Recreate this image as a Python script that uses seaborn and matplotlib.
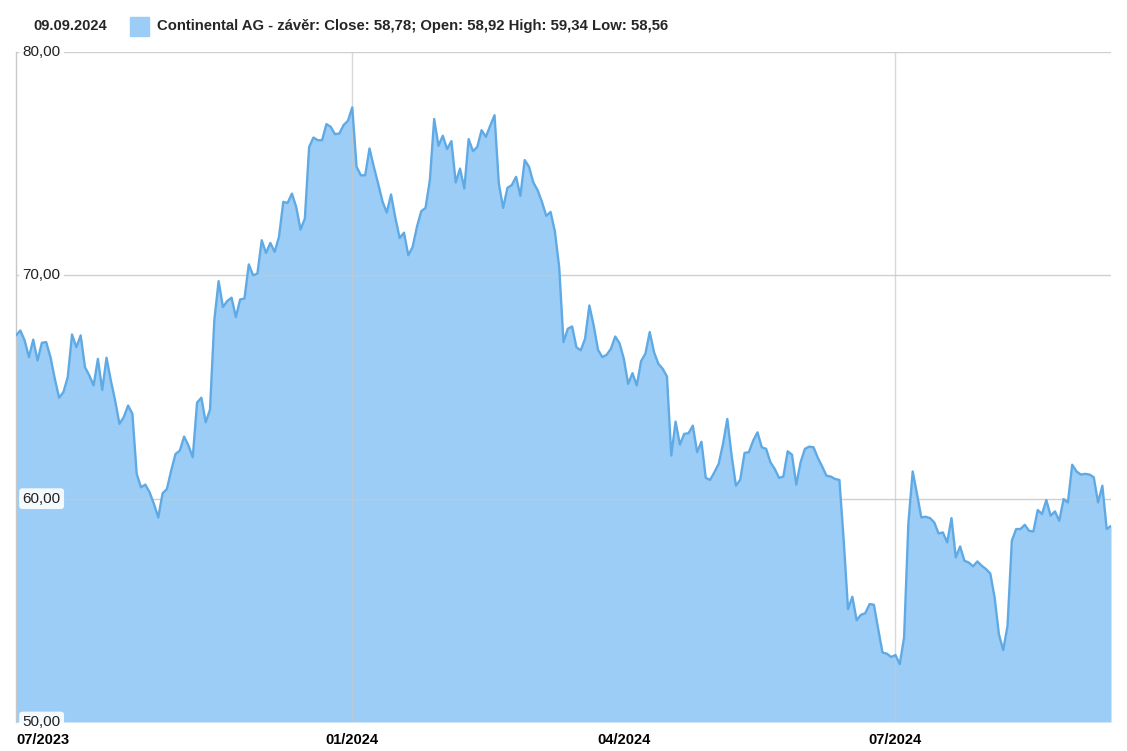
import numpy as np
import pandas as pd
import matplotlib
matplotlib.use('Agg')
import matplotlib.pyplot as plt
import matplotlib.transforms as mtransforms
from matplotlib.patches import Rectangle
import seaborn as sns

# Continental AG closing prices, one value per trading day (11.09.2023 - 09.09.2024)
close = [
    67.31, 67.53, 67.09, 66.34, 67.12, 66.19, 66.98, 67.01, 66.34, 65.37,
    64.52, 64.77, 65.44, 67.35, 66.78, 67.31, 65.89, 65.52, 65.07, 66.26,
    64.87, 66.31, 65.29, 64.39, 63.35, 63.65, 64.17, 63.80, 61.11, 60.51,
    60.63, 60.28, 59.76, 59.16, 60.24, 60.43, 61.26, 62.00, 62.15, 62.78,
    62.38, 61.85, 64.30, 64.52, 63.42, 63.98, 67.98, 69.74, 68.58, 68.85,
    69.00, 68.13, 68.92, 68.96, 70.49, 70.00, 70.08, 71.57, 71.00, 71.45,
    71.05, 71.72, 73.29, 73.24, 73.66, 73.06, 72.05, 72.54, 75.75, 76.17,
    76.05, 76.05, 76.77, 76.65, 76.32, 76.35, 76.73, 76.92, 77.52, 74.86,
    74.48, 74.48, 75.68, 74.86, 74.11, 73.32, 72.81, 73.62, 72.57, 71.67,
    71.91, 70.90, 71.27, 72.17, 72.87, 73.02, 74.26, 77.00, 75.80, 76.25,
    75.65, 76.01, 74.16, 74.78, 73.89, 76.10, 75.56, 75.75, 76.50, 76.20,
    76.70, 77.17, 74.11, 73.02, 73.92, 74.04, 74.41, 73.56, 75.16, 74.86,
    74.16, 73.81, 73.29, 72.66, 72.84, 71.97, 70.37, 67.01, 67.61, 67.71,
    66.78, 66.64, 67.16, 68.65, 67.76, 66.67, 66.34, 66.44, 66.71, 67.26,
    66.96, 66.26, 65.14, 65.62, 65.07, 66.16, 66.49, 67.46, 66.56, 66.04,
    65.82, 65.47, 61.93, 63.45, 62.42, 62.90, 62.93, 63.27, 62.08, 62.55,
    60.93, 60.84, 61.18, 61.56, 62.45, 63.57, 61.93, 60.58, 60.85, 62.05,
    62.08, 62.60, 62.97, 62.30, 62.23, 61.63, 61.33, 60.93, 60.99, 62.12,
    61.97, 60.63, 61.63, 62.23, 62.33, 62.30, 61.83, 61.44, 61.03, 60.99,
    60.88, 60.84, 58.12, 55.05, 55.61, 54.56, 54.80, 54.87, 55.28, 55.25,
    54.16, 53.11, 53.06, 52.91, 53.00, 52.59, 53.78, 58.90, 61.22, 60.21,
    59.16, 59.19, 59.13, 58.94, 58.44, 58.49, 58.04, 59.13, 57.37, 57.86,
    57.22, 57.14, 56.97, 57.19, 57.00, 56.85, 56.65, 55.58, 53.93, 53.22,
    54.31, 58.12, 58.64, 58.64, 58.83, 58.56, 58.53, 59.49, 59.31, 59.94,
    59.24, 59.43, 59.01, 59.98, 59.83, 61.52, 61.22, 61.08, 61.11, 61.08,
    60.96, 59.83, 60.58, 58.64, 58.78,
]
holidays = ['2023-12-25', '2023-12-26', '2024-01-01', '2024-03-29', '2024-04-01', '2024-05-01']
dates = pd.bdate_range('2023-09-11', '2024-09-09', freq='C', holidays=holidays)

tick_months = ['2024-01-01', '2024-04-01', '2024-07-01']
tick_labels = ['07/2023', '01/2024', '04/2024', '07/2024']
grid_months = ['2024-01-01', '2024-07-01']
y_ticks = [50, 60, 70, 80]
y_labels = ['50,00', '60,00', '70,00', '80,00']

header_date = '09.09.2024'
legend_text = 'Continental AG - závěr: Close: 58,78; Open: 58,92 High: 59,34 Low: 58,56'

df = pd.DataFrame({'date': dates[:len(close)], 'close': close})
df['idx'] = np.arange(len(df))

def first_idx(month):
    return int(df.loc[df['date'] >= pd.Timestamp(month), 'idx'].iloc[0])

sns.set_theme(style='white')
plt.rcParams['font.family'] = ['Liberation Sans', 'DejaVu Sans']

fill_col = '#9bcdf6'
line_col = '#5faae5'
grid_col = '#c8c8c8'

fig = plt.figure(figsize=(11.27, 7.51), dpi=100)
ax = fig.add_axes([16 / 1127, 29 / 751, 1095 / 1127, 670 / 751])

ax.fill_between(df['idx'], 50, df['close'], color=fill_col, lw=0, zorder=1)
sns.lineplot(data=df, x='idx', y='close', ax=ax, color=line_col, lw=1.7, zorder=3)

ax.set_xlim(0, len(df) - 1)
ax.set_ylim(50, 80)

# grid
for y in y_ticks[1:]:
    ax.axhline(y, color=grid_col, lw=1, alpha=0.85, zorder=2)
for m in grid_months:
    ax.axvline(first_idx(m), color=grid_col, lw=1, alpha=0.7, zorder=2)

# y labels drawn inside the plot
trans = mtransforms.blended_transform_factory(ax.transAxes, ax.transData)
for y, lab in zip(y_ticks, y_labels):
    ax.text(0.006, y, lab, transform=trans, ha='left', va='center', fontsize=11,
            color='#222222', zorder=5, clip_on=False,
            bbox=dict(boxstyle='round,pad=0.22', fc='white', ec='none', alpha=0.9))
ax.set_yticks([])

xt = [0] + [first_idx(m) for m in tick_months]
ax.set_xticks(xt)
ax.set_xticklabels(tick_labels, fontsize=10.5, fontweight='bold', color='black')
ax.get_xticklabels()[0].set_ha('left')
ax.tick_params(axis='x', length=0, pad=8)
ax.set_xlabel('')
ax.set_ylabel('')

for s in ['top', 'right', 'bottom']:
    ax.spines[s].set_visible(False)
ax.spines['left'].set_color(grid_col)
ax.spines['left'].set_linewidth(1)

# header / legend
fig.text(33 / 1127, 1 - 26 / 751, header_date, fontsize=10.5, fontweight='bold', va='center')
fig.patches.append(Rectangle((130 / 1127, 1 - 36 / 751), 19 / 1127, 19 / 751,
                             transform=fig.transFigure, color=fill_col))
fig.text(157 / 1127, 1 - 26 / 751, legend_text, fontsize=10.7, fontweight='bold', va='center')

plt.savefig('out.png', dpi=100)
